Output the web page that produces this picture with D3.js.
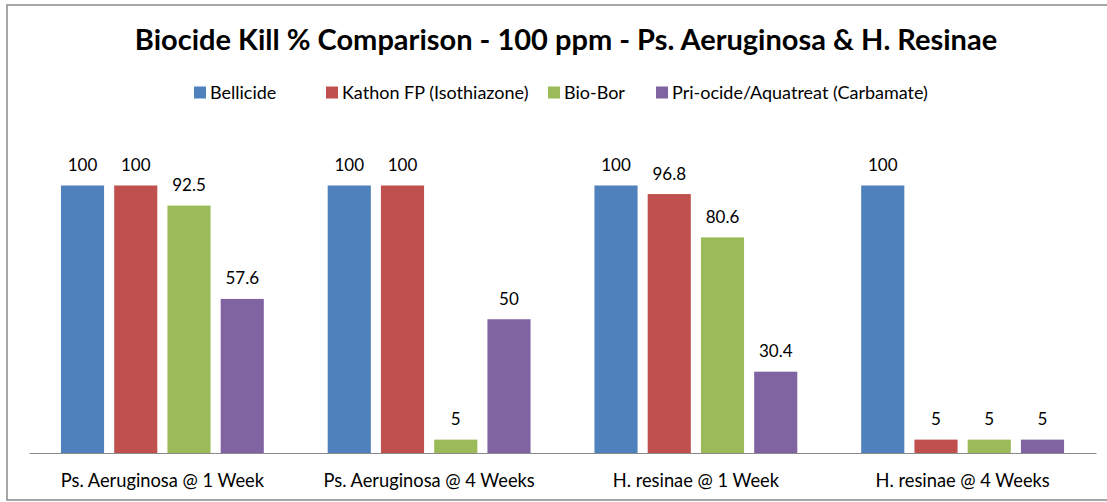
<!DOCTYPE html>
<html>
<head>
<meta charset="utf-8">
<script src="https://cdn.jsdelivr.net/npm/d3@7"></script>
<style>
  body { margin: 0; background: #fff; }
  text { font-family: Lato, "Noto Sans", sans-serif; fill: #000; }
</style>
</head>
<body>
<div id="chart"></div>
<script>
// chart data
const categories = ["Ps. Aeruginosa @ 1 Week", "Ps. Aeruginosa @ 4 Weeks", "H. resinae @ 1 Week", "H. resinae @ 4 Weeks"];
const seriesNames = ["Bellicide", "Kathon FP (Isothiazone)", "Bio-Bor", "Pri-ocide/Aquatreat (Carbamate)"];
const bellicide = [100, 100, 100, 100];
const kathon = [100, 100, 96.8, 5];
const bioBor = [92.5, 5, 80.6, 5];
const priocide = [57.6, 50, 30.4, 5];
const colors = ["#4F81BD", "#C0504D", "#9BBB59", "#8064A2"];

const seriesValues = [bellicide, kathon, bioBor, priocide];

const width = 1107, height = 502;

const svg = d3.select("#chart").append("svg")
    .attr("width", width)
    .attr("height", height);

// outer chart border
svg.append("rect")
    .attr("x", 7).attr("y", 5)
    .attr("width", 1110).attr("height", 495)
    .attr("fill", "none")
    .attr("stroke", "#8a8a8a")
    .attr("stroke-width", 1.5);

// title
svg.append("text")
    .attr("x", 566).attr("y", 50)
    .attr("text-anchor", "middle")
    .style("font-weight", "bold")
    .style("font-size", "29px")
    .text("Biocide Kill % Comparison - 100 ppm - Ps. Aeruginosa & H. Resinae");

// legend
const legendX = [194, 326, 548, 656];
const legend = svg.append("g").attr("class", "legend");
seriesNames.forEach((name, i) => {
    let g = legend.append("g").attr("transform", `translate(${legendX[i]}, 92.5)`);
    g.append("rect")
        .attr("x", 0).attr("y", -6)
        .attr("width", 12).attr("height", 12)
        .attr("fill", colors[i]);
    g.append("text")
        .attr("x", 16).attr("y", 6)
        .style("font-size", "18px")
        .text(name);
});

// scales
const x0 = d3.scaleBand()
    .domain(categories)
    .range([29, 1096]);

const x1 = d3.scaleBand()
    .domain(d3.range(seriesNames.length))
    .range([0, x0.bandwidth()])
    .paddingInner(0.19)
    .paddingOuter(0.6);

const y = d3.scaleLinear()
    .domain([0, 100])
    .range([453, 185.5]);

// bars
const groups = svg.selectAll(".group")
    .data(categories)
    .enter().append("g")
    .attr("class", "group")
    .attr("transform", d => `translate(${x0(d)}, 0)`);

groups.selectAll("rect")
    .data((d, ci) => seriesValues.map((vals, si) => ({si: si, value: vals[ci]})))
    .enter().append("rect")
    .attr("x", d => x1(d.si))
    .attr("y", d => y(d.value))
    .attr("width", x1.bandwidth())
    .attr("height", d => y(0) - y(d.value))
    .attr("fill", d => colors[d.si]);

groups.selectAll(".label")
    .data((d, ci) => seriesValues.map((vals, si) => ({si: si, value: vals[ci]})))
    .enter().append("text")
    .attr("class", "label")
    .attr("x", d => x1(d.si) + x1.bandwidth() / 2)
    .attr("y", d => y(d.value) - 14.5)
    .attr("text-anchor", "middle")
    .style("font-size", "17px")
    .text(d => d.value);

// x axis
const xAxis = d3.axisBottom(x0).tickSize(0).tickPadding(21);
const axisG = svg.append("g")
    .attr("transform", `translate(0, ${y(0)})`)
    .call(xAxis);
axisG.select(".domain").attr("stroke", "#8a8a8a").attr("stroke-width", 1.2);
axisG.selectAll("text")
    .style("font-size", "18.3px")
    .style("font-family", "Lato, 'Noto Sans', sans-serif")
    .attr("fill", "#000");
</script>
</body>
</html>
